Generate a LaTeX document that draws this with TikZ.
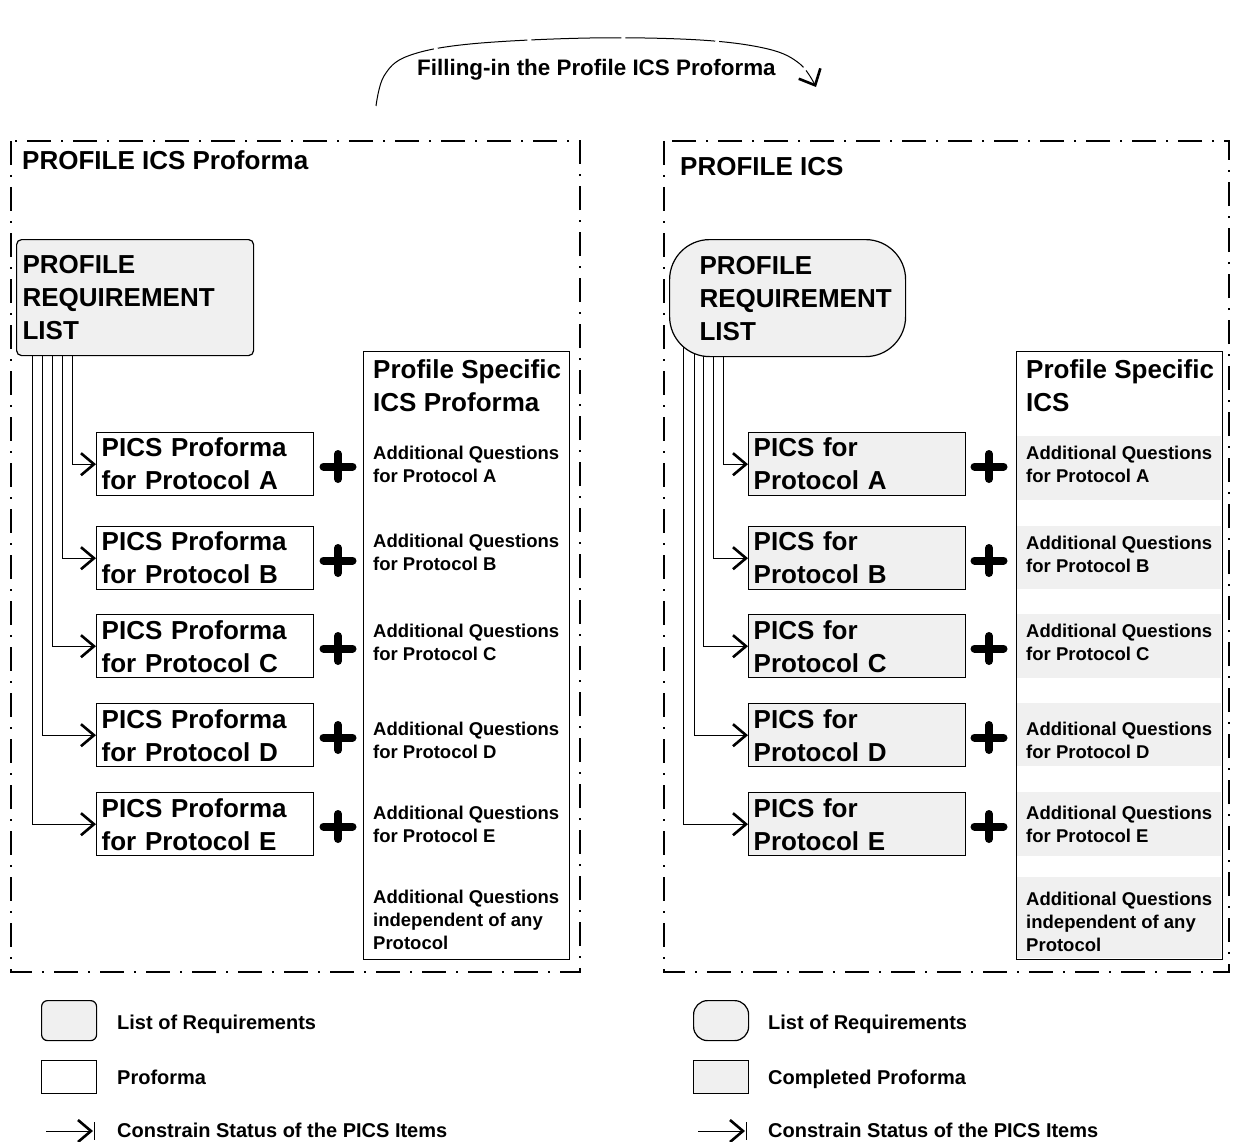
\documentclass[tikz,border=0pt]{standalone}
\usepackage{fontspec}
\setmainfont{Liberation Sans}
\usetikzlibrary{arrows.meta}
\pgfdeclarelayer{background}
\pgfsetlayers{background,main}
\definecolor{reqgray}{gray}{0.94}
\newcommand\bigtxt{\bfseries\fontsize{26}{33}\selectfont}
\newcommand\smalltxt{\bfseries\fontsize{18.5}{23}\selectfont}
\newcommand\legtxt{\bfseries\fontsize{20}{24}\selectfont}
\newcommand\headtxt{\bfseries\fontsize{22.4}{26}\selectfont}
\begin{document}
\begin{tikzpicture}[x=1pt,y=-1pt,
  frame/.style={line width=1.1pt, dash pattern=on 24pt off 10pt on 2pt off 10pt},
  lbl/.style={inner sep=0pt, anchor=north west, align=left},
  biglbl/.style={lbl, font=\bigtxt},
  smalllbl/.style={lbl, font=\smalltxt},
  leglbl/.style={inner sep=0pt, anchor=base west, font=\legtxt},
  pbox/.style={draw, line width=1.4pt, anchor=north west, minimum height=63,
    text width=207, inner xsep=5pt, inner ysep=0pt, align=left, font=\bigtxt},
  prlbox/.style={draw, line width=1.2pt, fill=reqgray, anchor=north west,
    minimum height=116, inner ysep=0pt, align=left, font=\bigtxt},
  specbox/.style={draw, line width=1.3pt, fill=white, anchor=north west,
    minimum width=206, minimum height=608, inner sep=0pt},
  chev/.tip={Straight Barb[length=13pt,width=22pt,line width=2.6pt]},
  con/.style={line width=1pt, -chev},
  plussign/.pic={\draw[line width=8pt, line cap=round] (-14.5,0) -- (14.5,0) (0,-12.5) -- (0,12.5);}
]
\useasboundingbox (0,0) rectangle (1233,1142);

% ---------- heading with curved arrow ----------
\node[inner sep=0pt, anchor=base west, font=\headtxt] (fill) at (417,76) {Filling-in the Profile ICS Proforma};
\draw[line width=1pt, dash pattern=on 90pt off 4pt,
  -{Straight Barb[length=13pt,width=24pt,line width=2.6pt]}]
  plot[smooth, tension=0.6] coordinates {(376,106) (384,76) (408,56) (470,44) (590,38) (700,40) (768,49) (800,64) (816,87)};

% ---------- left: profile ICS proforma ----------
\draw[frame] (11,141) rectangle (580,972);
\node[biglbl] (ltitle) at (22,150.5) {PROFILE ICS Proforma};
\node[prlbox, rounded corners=5pt, minimum width=237, text width=225, inner xsep=6pt]
  (lprl) at (16,239) {PROFILE\\REQUIREMENT\\LIST};

\node[pbox, fill=white] (lA) at (96,432) {PICS Proforma\\for Protocol A};
\node[pbox, fill=white] (lB) at (96,526) {PICS Proforma\\for Protocol B};
\node[pbox, fill=white] (lC) at (96,614) {PICS Proforma\\for Protocol C};
\node[pbox, fill=white] (lD) at (96,703) {PICS Proforma\\for Protocol D};
\node[pbox, fill=white] (lE) at (96,792) {PICS Proforma\\for Protocol E};

\node[specbox] (lspec) at (363,351) {};
\node[biglbl] (lspect) at (373,359.7) {Profile Specific\\ICS Proforma};
\node[smalllbl] (lqA) at (373,445.4) {Additional Questions\\for Protocol A};
\node[smalllbl] (lqB) at (373,533.4) {Additional Questions\\for Protocol B};
\node[smalllbl] (lqC) at (373,623.4) {Additional Questions\\for Protocol C};
\node[smalllbl] (lqD) at (373,721.4) {Additional Questions\\for Protocol D};
\node[smalllbl] (lqE) at (373,805.4) {Additional Questions\\for Protocol E};
\node[smalllbl] (lqX) at (373,889.4) {Additional Questions\\independent of any\\Protocol};

\foreach \y in {463.5,557.5,645.5,734.5,823.5} \pic at (338,\y+3) {plussign};

\begin{pgfonlayer}{background}
  \draw[con] ([xshift=56pt]lprl.south west) |- (lA.west);
  \draw[con] ([xshift=46pt]lprl.south west) |- (lB.west);
  \draw[con] ([xshift=36pt]lprl.south west) |- (lC.west);
  \draw[con] ([xshift=26pt]lprl.south west) |- (lD.west);
  \draw[con] ([xshift=16pt]lprl.south west) |- (lE.west);
\end{pgfonlayer}

% ---------- right: profile ICS ----------
\draw[frame] (664,141) rectangle (1229,972);
\node[biglbl] (rtitle) at (680,156.7) {PROFILE ICS};
\node[prlbox, rounded corners=40pt, minimum width=236, minimum height=117, text width=176, inner xsep=30pt]
  (rprl) at (669,239) {PROFILE\\REQUIREMENT\\LIST};

\node[pbox, fill=reqgray] (rA) at (748,432) {PICS for\\Protocol A};
\node[pbox, fill=reqgray] (rB) at (748,526) {PICS for\\Protocol B};
\node[pbox, fill=reqgray] (rC) at (748,614) {PICS for\\Protocol C};
\node[pbox, fill=reqgray] (rD) at (748,703) {PICS for\\Protocol D};
\node[pbox, fill=reqgray] (rE) at (748,792) {PICS for\\Protocol E};

\node[specbox] (rspec) at (1016,351) {};
\fill[reqgray] (1017,436) rectangle (1221,500);
\fill[reqgray] (1017,526) rectangle (1221,589);
\fill[reqgray] (1017,614) rectangle (1221,678);
\fill[reqgray] (1017,703) rectangle (1221,766);
\fill[reqgray] (1017,792) rectangle (1221,856);
\fill[reqgray] (1017,877) rectangle (1221,958);
\node[biglbl] (rspect) at (1026,359.7) {Profile Specific\\ICS};
\node[smalllbl] (rqA) at (1026,445.4) {Additional Questions\\for Protocol A};
\node[smalllbl] (rqB) at (1026,535.4) {Additional Questions\\for Protocol B};
\node[smalllbl] (rqC) at (1026,623.4) {Additional Questions\\for Protocol C};
\node[smalllbl] (rqD) at (1026,721.4) {Additional Questions\\for Protocol D};
\node[smalllbl] (rqE) at (1026,805.4) {Additional Questions\\for Protocol E};
\node[smalllbl] (rqX) at (1026,891.4) {Additional Questions\\independent of any\\Protocol};

\foreach \y in {463.5,557.5,645.5,734.5,823.5} \pic at (989,\y+3) {plussign};

\begin{pgfonlayer}{background}
  \draw[con] ([xshift=54pt,yshift=20pt]rprl.south west) |- (rA.west);
  \draw[con] ([xshift=44pt,yshift=20pt]rprl.south west) |- (rB.west);
  \draw[con] ([xshift=34pt,yshift=20pt]rprl.south west) |- (rC.west);
  \draw[con] ([xshift=25pt,yshift=20pt]rprl.south west) |- (rD.west);
  \draw[con] ([xshift=14pt,yshift=20pt]rprl.south west) |- (rE.west);
\end{pgfonlayer}

% ---------- legends ----------
\node[draw, line width=1.2pt, fill=reqgray, rounded corners=6pt, minimum width=55, minimum height=40, anchor=north west] (lgreq) at (41,1000) {};
\node[leglbl] (lgreqt) at (117,1029) {List of Requirements};
\node[draw, line width=1.2pt, fill=white, minimum width=55, minimum height=33, anchor=north west] (lgpro) at (41,1060) {};
\node[leglbl] (lgprot) at (117,1084) {Proforma};
\coordinate (lga) at (46,1131);
\coordinate (lgb) at (93,1131);
\draw[con] (lga) -- (lgb);
\draw[line width=1.6pt] ([xshift=1.5pt,yshift=9pt]lgb) -- ([xshift=1.5pt,yshift=-9pt]lgb);
\node[leglbl] (lgcont) at (117,1137) {Constrain Status of the PICS Items};

\node[draw, line width=1.2pt, fill=reqgray, rounded corners=14pt, minimum width=55, minimum height=40, anchor=north west] (rgreq) at (693,1000) {};
\node[leglbl] (rgreqt) at (768,1029) {List of Requirements};
\node[draw, line width=1.2pt, fill=reqgray, minimum width=55, minimum height=33, anchor=north west] (rgpro) at (693,1060) {};
\node[leglbl] (rgprot) at (768,1084) {Completed Proforma};
\coordinate (rga) at (698,1131);
\coordinate (rgb) at (745,1131);
\draw[con] (rga) -- (rgb);
\draw[line width=1.6pt] ([xshift=1.5pt,yshift=9pt]rgb) -- ([xshift=1.5pt,yshift=-9pt]rgb);
\node[leglbl] (rgcont) at (768,1137) {Constrain Status of the PICS Items};
\end{tikzpicture}
\end{document}
